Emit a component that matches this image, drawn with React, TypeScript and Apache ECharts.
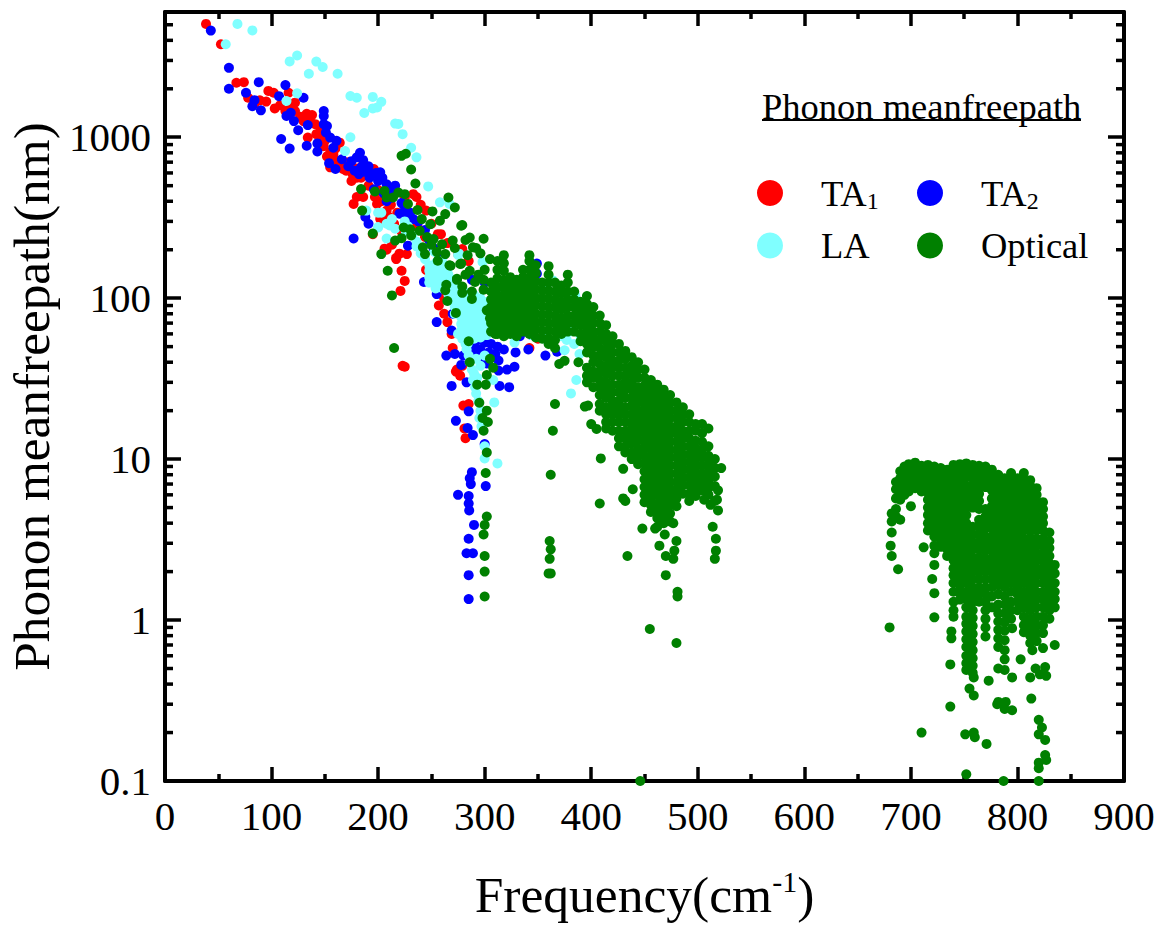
import React, { useEffect, useRef } from "react";
import * as echarts from "echarts";

const xTicks = { min: 0, max: 900, interval: 100 };
const yTickLabels = [0.1, 1, 10, 100, 1000];
const yMinorTicks = [0.2,0.3,0.4,0.5,0.6,0.7,0.8,0.9,2,3,4,5,6,7,8,9,20,30,40,50,60,70,80,90,200,300,400,500,600,700,800,900,2000,3000,4000,5000];

const ta1: number[][] = [
[38.5,5060],[52.5,3780],[67,2180],[74,2200],[78,1760],[97,1940],[102,1890],[116,1890],[89,1695],[95,1665],[103,1510],[122,1640],[113,1455],[122,1455],[133,1400],[138,1375],[130,1260],[141,1205],[134,995],[142,1045],[146,1120],[150,950],[164,925],[155,805],[160,850],[161,715],[155,650],[167,635],[172,700],[180,640],[186,680],[196,635],[175,535],[180,560],[191,500],[180,425],[186,425],[177,385],[197,425],[199,385],[208,350],[203,400],[195,250],[236,425],[233,443],[225,420],[245,350],[240,380],[256,250],[250,290],[210,320],[215,290],[222,260],[208,200],[206,203],[213,215],[227,188],[220,189],[217,175],[217,178],[222,148],[225,128],[221,111],[279,202],[285,170],[249,135],[245,150],[259,250],[265,220],[275,189],[257,90],[262,100],[265,71],[269,60],[270,49],[274,36],[277,33],[273,35],[279,38],[285,22],[280,21.5],[281,15.5],[282,13.5],[223,38],[225,37.5],[262,80],[258,115],[315,62],[350,56],[342,49],
[84,1620],[108,1580],[118,1520],[127,1340],[136,1290],[145,1000],[149,880],[152,760],[158,780],[164,690],[170,620],[176,590],[184,560],[190,600],[200,470],[206,450],[212,380],[218,340],[226,310],[232,290],[238,270],[244,240],[202,310]
];
const ta2: number[][] = [
[43,4600],[60,2700],[60,2000],[88,2200],[76,1890],[84,1700],[82,1560],[90,1470],[113,2110],[107,1800],[130,1760],[114,1356],[118,1420],[121,1260],[125,1105],[134,1190],[149,1455],[149,1355],[149,1205],[152,1175],[151,1070],[155,995],[161,950],[158,860],[109,975],[117,850],[133,885],[143,915],[143,815],[154,690],[160,635],[166,730],[175,710],[183,800],[180,750],[184,650],[189,635],[194,590],[182,590],[187,610],[191,660],[202,605],[200,535],[208,510],[216,500],[196,475],[205,450],[212,420],[208,400],[220,335],[227,335],[233,310],[225,370],[188,320],[191,290],[177,235],[228,212],[243,126],[255,106],[272,108],[264,44],[269,28.5],[283,30],[314,28.5],[323,28],[328,37.5],[321,36],[313,35.5],[278,38.5],[302,39.3],[313,41],[255,71],[269,63],[255,115],[250,130],[285,19.8],[273,17.3],[284,15.6],[289,14.1],[300,12.4],[288,8.3],[286,7.6],[287,7],[301,6.8],[275,6],[285,5.9],[285,5.3],[285.5,4.8],[290,3.9],[285,3.2],[283,2.6],[289,2.6],[285,1.9],[285,1.35],[329,46],[341,48],[357,44],[368,46.5],[333,58],[344,59],[349,142],[349,164],[311,115],[324,68],[284,50],[290,52],[294,55],[300,53],[306,52],[312,50],[318,48],[296,48],[304,46],[292,47],[310,45],[282,56],[278,62],[270,80],[276,100],[288,130],[300,125],[272,45],[280,44],[299,40],
[172,660],[178,620],[186,720],[192,560],[198,600],[204,560],[212,470],[222,390],[230,340],[238,300],[244,265],[248,230],[252,205],[258,180]
];
const la: number[][] = [
[68,5060],[82,4610],[57,3780],[124,3220],[117,2960],[142,2950],[148,2730],[135,2480],[162,2480],[174,1805],[180,1760],[195,1780],[203,1660],[195,1510],[199,1530],[187,1415],[216,1215],[219,1210],[223,1045],[231,860],[236,750],[247,495],[258,394],[267,385],[189,350],[200,340],[124,1875],[114,1680],[174,1000],[169,820],[213,310],[208,290],[225,300],[200,275],[208,235],[216,270],[236,210],[275,186],[200,277],[211,283],[203,340],[228,280],[275,60],[283,48],[288,36],[289,31],[292,25.6],[296,20],[297,16],[300,12],[300,10.1],[312,9.4],[309,22.5],[308,31],[300,44],[328,53],[344,59],[356,56],[364,129],[358,117],[385,104],[377,55],[375,47.5],[389,45],[386,31],[381,25.6],[298,168],[276,189],[253,194],[279,56],[282,52],[285,44],[286,40],[290,34],[291,28],[294,23],[295,18],[293,32],[296,38],[292,42],
[248,160],[248,148],[248,135],[248,125],[254,165],[254,150],[254,137],[254,125],[254,115],[260,170],[260,155],[260,140],[260,128],[260,116],[266,155],[266,140],[266,128],[266,116],[266,105],[266,97],[272,130],[272,118],[272,107],[272,97],[272,88],[272,80],[278,110],[278,100],[278,91],[278,83],[278,76],[278,69],[278,63],[284,108],[284,99],[284,90],[284,82],[284,75],[284,68],[284,62],[284,57],[284,52],[290,105],[290,96],[290,88],[290,80],[290,73],[290,67],[290,61],[290,56],[296,100],[296,91],[296,83],[296,76],[296,69],[296,63],[296,57],[302,95],[302,87],[302,79],[302,72],[302,65],[302,59],[308,90],[308,82],[308,75],[308,68],[240,190],[244,175],[236,225],[232,245],[226,260],[380,62],[384,52],[390,58],[372,58]
];
const opticalSparse: number[][] = [
[222,766],[226,790],[231,630],[235,516],[266,422],[272,366],[184,476],[185,350],[197,460],[206,464],[208,422],[214,422],[219,453],[225,443],[228,385],[237,353],[251,346],[263,333],[241,310],[249,288],[258,303],[195,252],[203,188],[209,148],[213,104],[224,275],[230,268],[216,228],[222,236],[231,245],[239,262],[242,207],[252,233],[278,282],[270,228],[286,238],[289,207],[244,188],[256,171],[263,188],[268,159],[277,163],[274,132],[286,148],[291,126],[279,108],[263,112],[288,99],[215,49],[279,285],[299,234],[260,216],[255,194],[267,160],[278,164],[264,121],[274,130],[279,118],[288,110],[299,113],[265,96],[273,81],[285,54],[302,84],[305,75],[310,60],[317,60],[324,60],[302,33.3],[293,29],[301,29],[295,22.4],[302,20],[298,18],[303,17],[299,15],[302,11],[301,8.2],[302,4.4],[300,3.9],[299,3.4],[300,2.5],[300,2],[300,1.4],[305,42],[308,37],[286,40],[282,230],[292,205],[296,190],[284,185],[272,205],[250,215],[246,240],[305,175],[300,150],[294,140],[299,130],[282,140],
[366,22],[364,15],[362,8],[361,3.1],[362,2.75],[361,2.4],[360,1.95],[362,1.95],[409,10.1],[430,8.7],[408,5.3],[430,5.7],[432,5.5],[439,6.5],[394,21.2],[397,21.5],[400,16.5],[405,15.4],[370,39],[375,40.8],[388,40],[434,2.5],[446,0.1],[455,0.88],[480,0.72],[481,1.5],[481,1.4],[448,3.7],[460,3.7],[469,3.4],[464,2.9],[477,4],[480,3.1],[478,2.7],[477,2.4],[470,2.5],[470,1.9],[519,4.8],[514,3.8],[517,3.2],[517,2.7],[516,2.4],[522,8.8],[514,7.8],[519,6.4],[518,5.6],[512,5.2],[506,5.6],
[680,0.9],[688,2.07],[681,2.9],[682,2.5],[700,5.1],[712,2.83],[720,1.8],[722,1.47],[722,1.04],[738,0.85],[738,0.77],[737,0.53],[737,0.29],[710,0.2],[752,0.49],[759,0.44],[755,0.375],[759,0.34],[751,0.195],[759,0.2],[760,0.187],[771,0.17],[752,0.11],[787,0.1],[773,0.42],[782,0.5],[788,0.49],[795,0.44],[803,0.57],[782,0.31],[789,0.31],[781,0.3],[788,0.28],[795,0.275],[813,0.325],[814,0.65],[835,0.7],[824,0.67],[817,0.5],[826,0.51],[812,0.44],[821,0.46],[827,0.45],[820,0.24],[823,0.215],[820,0.195],[826,0.18],[826,0.145],[827,0.135],[820,0.13],[820,0.12],[820,0.1],[770,0.9],[770,0.79],[795,0.89]
];
const opticalColumns: [number, number[]][] = [
[306,[125,110,98,88,79,70,62]],
[312,[170,150,133,118,105,94,84,75,67,60]],
[318,[185,165,148,130,116,103,92,82,73,65,58]],
[324,[135,120,107,96,85,76,68,61]],
[330,[130,116,103,92,82,73,65,58]],
[336,[150,135,125,112,100,89,79,70,62]],
[342,[185,170,150,133,118,105,94,84,75,67,60]],
[348,[160,143,127,113,100,90,80,71,64,57]],
[354,[125,112,100,89,79,71,63,56]],
[360,[158,140,125,111,99,88,79,70,63,56,52]],
[366,[125,110,98,88,78,70,62,55,49]],
[372,[120,107,95,85,75,67,60]],
[378,[140,125,110,98,88,78,70,62]],
[384,[110,98,88,78,70,62]],
[390,[95,85,76,68,60,54]],
[396,[103,92,82,73,65,58,52,46,37,33,30]],
[402,[88,78,70,62,56,50,44,40,35,32,28]],
[408,[78,70,62,55,49,44,39,35,31,28,25,22,20]],
[414,[68,60,54,48,43,38,34,30,27,24,21,19,17,15.5]],
[420,[58,52,46,41,37,33,29,26,23,21,19,17,15]],
[426,[52,46,41,37,33,29,26,23,21,19,17,15,13.5,12]],
[432,[47,42,37,33,30,27,24,21,19,17,15,13.5,12,11]],
[438,[43,38,34,30,27,24,21.5,19,17,15.5,14,12.5,11,10]],
[444,[40,36,32,28,25,22.5,20,18,16,14.5,13,11.5,10.4,9.3]],
[450,[36,32,28.5,25.5,23,20.5,18.5,16.5,14.8,13.2,11.8,10.5,9.4,8.4,7.5,6.7,6,5.4]],
[456,[31,28,25,22.3,20,18,16,14.3,12.8,11.5,10.3,9.2,8.2,7.3,6.5,5.8,5.2,4.7]],
[462,[29,26,23,20.5,18.5,16.5,14.8,13.2,11.8,10.5,9.4,8.4,7.5,6.7,6,5.3,4.8,4.3,3.8]],
[468,[27,24,21.5,19.2,17.2,15.4,13.8,12.3,11,9.8,8.8,7.8,7,6.2,5.6,5,4.5,4]],
[474,[25,22.3,20,18,16,14.3,12.8,11.4,10.2,9.1,8.1,7.2,6.5,5.8,5.2,4.6,4.1]],
[480,[22.5,20,18,16,14.4,12.8,11.4,10.2,9.1,8.1,7.2,6.4,5.7,5.1]],
[486,[21,19,17,15,13.5,12,10.7,9.6,8.6,7.7,6.9,6.1]],
[492,[19,17,15,13.5,12,10.7,9.6,8.6,7.7,6.9,6.1,5.5]],
[498,[16.5,15,13,11.6,10.4,9.3,8.3,7.4,6.6,5.9]],
[504,[16.5,14.5,12.8,11.4,10.2,9.1,8.1,7.2,6.4]],
[510,[15.5,12,10.5,9.3,8.3,7.4,6.6,6]],
[516,[10,8.8,7.8,6.8,5.5]],
[682,[4.6,4.1,3.5]],
[686,[7.2,6.5,5.7,4.9,4.4]],
[690,[8.4,7.6,6.9,6.2,5.6,4.2]],
[694,[9,8.2,7.4,6.6,6]],
[698,[9.3,8.6,7.8,7,6.3]],
[704,[9.5,8.8,8,7.3,6.6]],
[710,[9.1,8.3,7.6,6.9,6.3]],
[716,[9.2,8.4,7.6,6.9,6.2,5.6,5,4.5,4,3.6]],
[722,[9,8.2,7.4,6.7,6.1,5.5,5,4.5,4.1,3.7,3.3,2.9,2.6,2.2]],
[728,[8.8,8,7.2,6.5,5.9,5.3,4.8,4.3,3.9,3.5,3.15,2.85]],
[734,[8.6,7.8,7.1,6.4,5.8,5.2,4.7,4.2,3.8,3.4,3.05,2.75,2.5]],
[740,[9.2,8.6,7.9,7.1,6.6,6,5.4,4.9,4.4,4,3.6,3.2,2.9,2.6,2.35,2.1,1.9,1.7,1.5,1.3,1.15,1.05]],
[746,[9.3,8.5,7.8,7.2,6.5,5.9,5.3,4.8,4.3,3.9,3.5,3.15,2.85,2.55,2.3,2.05,1.85,1.65,1.48,1.34]],
[752,[9.4,8.6,7.7,6.8,6.1,5.5,5,4.5,4,3.6,3.25,2.9,2.6,2.35,2.1,1.9,1.7,1.5,1.35,1.2,1.05,0.95,0.85,0.76,0.68,0.6,0.54]],
[758,[9.2,8.4,7.6,6.9,6.2,5.6,5,3.8,3.4,3.05,2.75,2.45,2.2,2,1.8,1.6,1.45,1.3,1.15,1.03,0.92,0.82,0.73,0.65,0.58,0.52,0.47]],
[764,[9.1,8.3,7.5,6.8,6.1,5.5,4.9,4.2,3.8,3.4,3.05,2.75,2.45,2.2,2,1.8,1.6,1.45,1.3]],
[770,[9,8.2,7.4,6.7,4.9,4.4,4.1,3.7,3.3,3,2.7,2.4,2.2,2,1.8,1.6,1.45,1.3,1.15,1.02]],
[776,[8.6,7.8,7.1,6.4,5.7,5.1,4.6,4.1,3.7,3.3,3,2.7,2.4,2.2,2,1.8,1.6,1.4,1.2]],
[782,[8,7.3,6.6,6,5.4,4.9,4.4,3.9,3.5,3.15,2.85,2.55,2.3,2.05,1.85,1.65,1.45,1.25,1.1,0.98,0.87,0.77,0.68]],
[788,[7.6,7,6.3,5.7,5.1,4.6,4.1,3.7,3.3,3,2.7,2.4,2.2,2,1.8,1.6,1.4,1.25,1.1,0.97,0.86,0.75,0.65,0.57]],
[794,[8.2,7.4,6.7,6,5.4,4.9,4.4,4,3.6,3.2,2.9,2.6,2.35,2.1,1.9,1.7,1.5,1.3,1.15,1.02]],
[800,[7.6,7,6.3,5.7,5.1,4.6,4.1,3.7,3.3,3,2.7,2.4,2.2,2,1.8,1.6,1.45,1.3,1.15]],
[806,[8.2,7.4,6.7,6,5.4,4.9,4.4,4,3.6,3.2,2.9,2.6,2.35,2.1,1.9,1.7,1.5,1.35,1.2,1.05,0.93,0.84]],
[812,[7.4,6.8,6.1,5.5,5,4.5,4,3.6,3.25,2.95,2.65,2.4,2.2,2,1.8,1.6,1.45,1.3,1.15,1.02,0.9,0.8,0.72]],
[818,[6.6,6,5.4,4.9,4.4,4,3.6,3.2,2.9,2.6,2.35,2.1,1.9,1.7,1.5,1.35,1.2,1.05,0.93,0.83,0.74]],
[824,[5.4,4.9,4.4,4,3.6,3.2,2.9,2.6,2.35,2.1,1.9,1.7,1.5,1.35,1.2,1.05,0.93,0.83]],
[830,[3.5,3.1,2.8,2.5,2.25,2,1.8,1.6,1.45,1.3,1.15,1.02]],
[835,[2.2,1.95,1.7,1.5,1.35,1.2]]
];
const optical: number[][] = [
  ...opticalSparse,
  ...opticalColumns.flatMap(([f, ys]) => ys.map((y) => [f, y])),
];

const FONT = "Liberation Serif";
const colors = { ta1: "#ff0000", ta2: "#0000ff", la: "#80ffff", optical: "#008000" };

export default function App() {
  const ref = useRef<HTMLDivElement>(null);
  useEffect(() => {
    const chart = echarts.init(ref.current!, undefined, { renderer: "svg" });
    const xBase = {
      type: "value", ...xTicks, splitLine: { show: false },
      axisLine: { show: true, onZero: false, lineStyle: { color: "#000", width: 4 } },
      axisTick: { show: true, inside: true, length: 14, lineStyle: { color: "#000", width: 3.5 } },
      minorTick: { show: true, splitNumber: 2, length: 7, lineStyle: { color: "#000", width: 3.5 } },
    };
    const yBase = {
      type: "log", logBase: 10, min: 0.1, max: 6000, splitLine: { show: false },
      axisLine: { show: true, onZero: false, lineStyle: { color: "#000", width: 4 } },
      axisTick: { show: true, inside: true, length: 16, lineStyle: { color: "#000", width: 3.5 } },
    };
    const legendText = {
      color: "#000", fontFamily: FONT, fontSize: 36.5, padding: [0, 0, 0, 33],
      rich: {
        b: { fontFamily: FONT, fontSize: 36.5, lineHeight: 40, color: "#000" },
        s: { fontFamily: FONT, fontSize: 24, lineHeight: 24, color: "#000", verticalAlign: "bottom", padding: [22, 0, 0, 0] },
      },
    };
    const legendFmt = (n: string) => n === "TA1" ? "{b|TA}{s|1}" : n === "TA2" ? "{b|TA}{s|2}" : `{b|${n}}`;
    const scatter = (name: string, data: number[][], color: string) => ({
      name, type: "scatter", data, symbol: "circle", symbolSize: 10,
      itemStyle: { color, opacity: 1 }, clip: true,
    });
    chart.setOption({
      animation: false,
      backgroundColor: "#fff",
      grid: { left: 165, top: 12, width: 959, height: 769, outerBoundsMode: "none" },
      xAxis: [
        {
          ...xBase, position: "bottom",
          axisLabel: { color: "#000", fontFamily: FONT, fontSize: 41, margin: 14 },
          name: "{b|Frequency(cm}{s|-1}{b|)}", nameLocation: "middle", nameGap: 85,
          nameTextStyle: {
            fontFamily: FONT, fontSize: 51.5, color: "#000",
            rich: {
              b: { fontFamily: FONT, fontSize: 51.5, lineHeight: 56, color: "#000" },
              s: { fontFamily: FONT, fontSize: 30, lineHeight: 30, color: "#000", verticalAlign: "top" },
            },
          },
        },
        { ...xBase, position: "top", axisLabel: { show: false } },
      ],
      yAxis: [
        {
          ...yBase, position: "left",
          axisLabel: {
            color: "#000", fontFamily: FONT, fontSize: 41, margin: 14,
            showMaxLabel: false,
            formatter: (v: number) => {
              const hit = yTickLabels.find((t) => Math.abs(t - v) / t < 1e-6);
              return hit === undefined ? "" : String(hit);
            },
          },
          name: "Phonon meanfreepath(nm)", nameLocation: "middle", nameGap: 108, nameRotate: 90,
          nameTextStyle: { fontFamily: FONT, fontSize: 51.3, color: "#000" },
        },
        { ...yBase, position: "right", axisLabel: { show: false } },
      ],
      legend: [
        {
          data: ["TA1", "LA"], orient: "vertical", left: 752, top: 162,
          icon: "circle", itemWidth: 26, itemHeight: 26, itemGap: 14,
          textStyle: legendText, formatter: legendFmt, selectedMode: false,
        },
        {
          data: ["TA2", "Optical"], orient: "vertical", left: 912, top: 162,
          icon: "circle", itemWidth: 26, itemHeight: 26, itemGap: 14,
          textStyle: legendText, formatter: legendFmt, selectedMode: false,
        },
      ],
      graphic: [
        {
          type: "text", x: 762, y: 88,
          style: { text: "Phonon meanfreepath", fontFamily: FONT, fontSize: 36.5, fill: "#000" },
        },
        {
          type: "line", shape: { x1: 762, y1: 120, x2: 1081, y2: 120 },
          style: { stroke: "#000", lineWidth: 2 },
        },
      ],
      series: [
        scatter("TA1", ta1, colors.ta1),
        scatter("TA2", ta2, colors.ta2),
        scatter("LA", la, colors.la),
        scatter("Optical", optical, colors.optical),
        {
          name: "yMinorTicks", type: "custom", clip: false, silent: true, z: 5,
          data: yMinorTicks.map((v) => [0, v]),
          renderItem: (_p: any, api: any) => {
            const v = api.value(1);
            const a = api.coord([xTicks.min, v]);
            const b = api.coord([xTicks.max, v]);
            const style = { stroke: "#000", lineWidth: 3.5 };
            return {
              type: "group",
              children: [
                { type: "line", shape: { x1: a[0], y1: a[1], x2: a[0] + 8, y2: a[1] }, style },
                { type: "line", shape: { x1: b[0], y1: b[1], x2: b[0] - 8, y2: b[1] }, style },
              ],
            };
          },
        },
      ],
    });
    return () => chart.dispose();
  }, []);
  return <div ref={ref} style={{ position: "fixed", left: 0, top: 0, width: 1159, height: 925 }} />;
}
